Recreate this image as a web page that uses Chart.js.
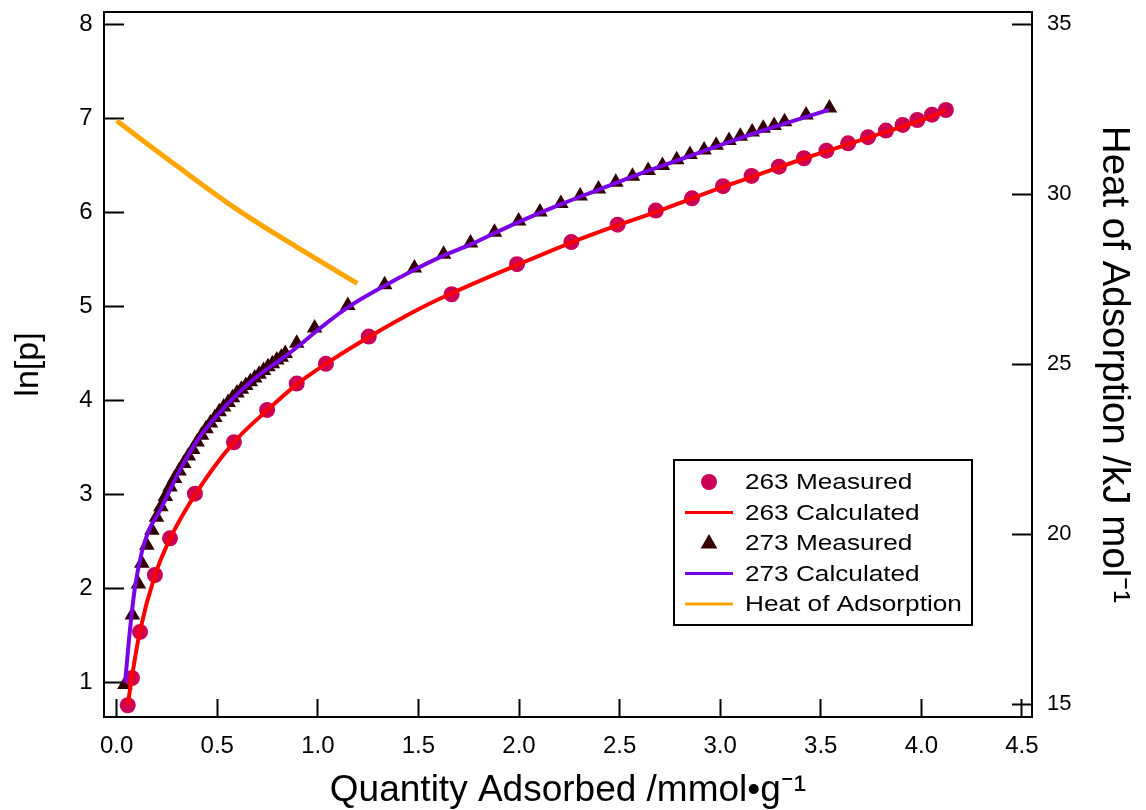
<!DOCTYPE html>
<html>
<head>
<meta charset="utf-8">
<script src="https://cdn.jsdelivr.net/npm/chart.js@4/dist/chart.umd.min.js"></script>
<style>
html,body{margin:0;padding:0;background:#ffffff;}
#wrap{width:1146px;height:810px;}
</style>
</head>
<body>
<div id="wrap"><canvas id="c" width="1146" height="810"></canvas></div>
<script>
// ---------- data ----------
const meas263X = [0.055,0.076,0.116,0.190,0.265,0.389,0.583,0.748,0.895,1.040,1.253,1.665,1.990,2.260,2.490,2.680,2.860,3.014,3.156,3.292,3.416,3.528,3.636,3.735,3.824,3.907,3.980,4.053,4.122];
const meas263Y = [0.76,1.05,1.54,2.145,2.535,3.01,3.556,3.90,4.18,4.39,4.68,5.13,5.45,5.685,5.87,6.02,6.15,6.279,6.388,6.486,6.576,6.657,6.735,6.80,6.87,6.93,6.983,7.039,7.089];

const calc263X = [0.055,0.075,0.115,0.190,0.265,0.390,0.580,0.750,0.900,1.040,1.250,1.500,1.665,2.000,2.260,2.500,2.700,2.860,3.000,3.200,3.400,3.600,3.800,4.000,4.122];
const calc263Y = [0.76,1.05,1.54,2.14,2.53,3.00,3.55,3.90,4.18,4.39,4.67,4.97,5.14,5.45,5.68,5.87,6.02,6.15,6.26,6.41,6.56,6.70,6.84,6.98,7.085];

const meas273X = [0.041,0.078,0.108,0.125,0.150,0.175,0.198,0.220,0.242,0.265,0.288,0.310,0.333,0.356,0.378,0.400,0.422,0.444,0.466,0.488,0.510,0.532,0.554,0.576,0.598,0.620,0.642,0.664,0.686,0.708,0.730,0.752,0.774,0.796,0.818,0.838,0.895,0.984,1.149,1.332,1.480,1.625,1.759,1.878,1.998,2.104,2.208,2.304,2.395,2.481,2.564,2.642,2.713,2.784,2.850,2.920,2.980,3.044,3.100,3.159,3.214,3.268,3.320,3.427,3.543];
const meas273Y = [0.98,1.72,2.05,2.27,2.46,2.62,2.76,2.87,2.98,3.08,3.17,3.25,3.33,3.41,3.48,3.56,3.63,3.70,3.76,3.82,3.88,3.93,3.98,4.03,4.08,4.12,4.16,4.20,4.24,4.28,4.32,4.36,4.39,4.43,4.46,4.50,4.61,4.77,5.01,5.23,5.41,5.555,5.675,5.79,5.91,6.005,6.095,6.175,6.25,6.32,6.385,6.445,6.50,6.56,6.615,6.665,6.715,6.765,6.81,6.855,6.895,6.925,6.965,7.035,7.11];

const calc273X = [0.042,0.066,0.090,0.124,0.160,0.215,0.314,0.414,0.546,0.678,0.844,0.910,1.000,1.149,1.332,1.480,1.625,1.760,1.878,2.000,2.200,2.400,2.600,2.850,3.100,3.300,3.540];
const calc273Y = [1.00,1.56,2.00,2.38,2.62,2.83,3.26,3.615,3.95,4.22,4.48,4.59,4.75,4.99,5.22,5.39,5.54,5.66,5.78,5.90,6.08,6.245,6.41,6.60,6.79,6.93,7.09];

const heatX = [0.000,0.300,0.600,0.900,1.196];
const heatY = [32.16,30.83,29.55,28.43,27.38];

const xTicks  = [0.0,0.5,1.0,1.5,2.0,2.5,3.0,3.5,4.0,4.5];
const yTicks  = [1,2,3,4,5,6,7,8];
const y2Ticks = [15,20,25,30,35];

const seriesLabels = ['263 Measured','263 Calculated','273 Measured','273 Calculated','Heat of Adsorption'];
const xTitle  = 'Quantity Adsorbed /mmol\u2022g\u207B\u00B9';
const yTitle  = 'ln[p]';
const y2Title = 'Heat of Adsorption /kJ mol\u207B\u00B9';

// ---------- helpers ----------
const FONT = '"Liberation Sans", Arial, Helvetica, sans-serif';
const pts = (xs, ys) => xs.map((x, i) => ({x: x, y: ys[i]}));

const C_CIRCLE = '#CC0055';
const C_RED    = '#FF0000';
const C_TRI    = '#330000';
const C_PURPLE = '#7A00E6';
const C_ORANGE = '#FFA500';

const noPad = s => { s.paddingTop = 0; s.paddingBottom = 0; s.paddingLeft = 0; s.paddingRight = 0; };

const framePlugin = {
  id: 'frameTop',
  afterDraw(chart) {
    const a = chart.chartArea, ctx = chart.ctx;
    ctx.save();
    ctx.strokeStyle = '#000';
    ctx.lineWidth = 2;
    ctx.beginPath();
    ctx.moveTo(a.left - 1, a.top);
    ctx.lineTo(a.right + 1, a.top);
    ctx.stroke();
    ctx.restore();
  }
};

const legendPlugin = {
  id: 'boxLegend',
  afterDraw(chart) {
    const ctx = chart.ctx, a = chart.chartArea;
    const bx = a.left + 570, by = a.top + 448, bw = 298, bh = 165;
    ctx.save();
    ctx.fillStyle = '#fff';
    ctx.fillRect(bx, by, bw, bh);
    ctx.lineWidth = 2;
    ctx.strokeStyle = '#000';
    ctx.strokeRect(bx, by, bw, bh);
    const rowH = 30.5;
    chart.data.datasets.forEach((ds, i) => {
      const cy = by + 22 + i * rowH;
      const sx = bx + 35;
      if (ds.showLine === false) {
        ctx.fillStyle = ds.backgroundColor;
        ctx.beginPath();
        if (ds.pointStyle === 'triangle') {
          const r = 9;
          ctx.moveTo(sx, cy - r);
          ctx.lineTo(sx + r * 0.93, cy + r * 0.62);
          ctx.lineTo(sx - r * 0.93, cy + r * 0.62);
          ctx.closePath();
        } else {
          ctx.arc(sx, cy, 8, 0, Math.PI * 2);
        }
        ctx.fill();
      } else {
        ctx.strokeStyle = ds.borderColor;
        ctx.lineWidth = 3;
        ctx.beginPath();
        ctx.moveTo(bx + 11, cy);
        ctx.lineTo(bx + 59, cy);
        ctx.stroke();
      }
      ctx.fillStyle = '#000';
      ctx.font = '22px ' + FONT;
      ctx.textBaseline = 'middle';
      ctx.textAlign = 'left';
      ctx.save();
      ctx.translate(bx + 71, cy + 1);
      ctx.scale(1.19, 1);
      ctx.fillText(ds.label, 0, 0);
      ctx.restore();
    });
    ctx.restore();
  }
};

new Chart(document.getElementById('c').getContext('2d'), {
  type: 'scatter',
  data: {
    datasets: [
      { label: seriesLabels[0], data: pts(meas263X, meas263Y), showLine: false,
        pointStyle: 'circle', pointRadius: 8, pointHoverRadius: 8,
        backgroundColor: C_CIRCLE, borderColor: C_CIRCLE, borderWidth: 0,
        xAxisID: 'x', yAxisID: 'y', order: 2 },
      { label: seriesLabels[1], type: 'line', data: pts(calc263X, calc263Y), showLine: true,
        borderColor: C_RED, backgroundColor: C_RED, borderWidth: 4, pointRadius: 0,
        cubicInterpolationMode: 'monotone', fill: false,
        xAxisID: 'x', yAxisID: 'y', order: 1 },
      { label: seriesLabels[2], data: pts(meas273X, meas273Y), showLine: false,
        pointStyle: 'triangle', pointRadius: 9, pointHoverRadius: 9,
        backgroundColor: C_TRI, borderColor: C_TRI, borderWidth: 0,
        xAxisID: 'x', yAxisID: 'y', order: 2 },
      { label: seriesLabels[3], type: 'line', data: pts(calc273X, calc273Y), showLine: true,
        borderColor: C_PURPLE, backgroundColor: C_PURPLE, borderWidth: 4, pointRadius: 0,
        cubicInterpolationMode: 'monotone', fill: false,
        xAxisID: 'x', yAxisID: 'y', order: 1 },
      { label: seriesLabels[4], type: 'line', data: pts(heatX, heatY), showLine: true,
        borderColor: C_ORANGE, backgroundColor: C_ORANGE, borderWidth: 5, pointRadius: 0,
        cubicInterpolationMode: 'monotone', fill: false,
        xAxisID: 'x', yAxisID: 'y2', order: 0 }
    ]
  },
  options: {
    responsive: false,
    animation: false,
    events: [],
    layout: { padding: { top: 12, left: 0, right: 0, bottom: 0 } },
    plugins: { legend: { display: false }, tooltip: { enabled: false } },
    scales: {
      x: {
        type: 'linear', position: 'bottom', min: -0.063, max: 4.55,
        afterBuildTicks: s => { s.ticks = xTicks.map(v => ({ value: v })); },
        afterFit: s => { s.height = 93; noPad(s); },
        ticks: { callback: v => Number(v).toFixed(1), color: '#000', padding: 32.5,
                 autoSkip: false, maxRotation: 0, font: { family: FONT, size: 24 } },
        grid: { display: true, drawOnChartArea: false, drawTicks: true, tickLength: -18,
                tickWidth: 2, tickColor: '#000' },
        border: { display: true, color: '#000', width: 2 },
        title: { display: true, text: xTitle, color: '#000',
                 font: { family: FONT, size: 37, lineHeight: 1 }, padding: { top: 0, bottom: 1 } }
      },
      y: {
        type: 'linear', position: 'left', min: 0.635, max: 8.131,
        afterBuildTicks: s => { s.ticks = yTicks.map(v => ({ value: v })); },
        afterFit: s => { s.width = 104; noPad(s); },
        ticks: { callback: v => String(v), color: '#000', padding: 31.3,
                 font: { family: FONT, size: 24 } },
        grid: { display: true, drawOnChartArea: false, drawTicks: true, tickLength: -20,
                tickWidth: 2, tickColor: '#000' },
        border: { display: true, color: '#000', width: 2 },
        title: { display: true, text: yTitle, color: '#000',
                 font: { family: FONT, size: 34, lineHeight: 1 }, padding: { top: 12, bottom: 0 } }
      },
      y2: {
        type: 'linear', position: 'right', min: 14.63, max: 35.36,
        afterBuildTicks: s => { s.ticks = y2Ticks.map(v => ({ value: v })); },
        afterFit: s => { s.width = 114; noPad(s); },
        ticks: { callback: v => String(v), color: '#000', padding: 35,
                 font: { family: FONT, size: 22 } },
        grid: { display: true, drawOnChartArea: false, drawTicks: true, tickLength: -20,
                tickWidth: 2, tickColor: '#000' },
        border: { display: true, color: '#000', width: 2 },
        title: { display: true, text: y2Title, color: '#000',
                 font: { family: FONT, size: 38.5, lineHeight: 1 }, padding: { top: 13, bottom: 0 } }
      }
    }
  },
  plugins: [framePlugin, legendPlugin]
});
</script>
</body>
</html>
